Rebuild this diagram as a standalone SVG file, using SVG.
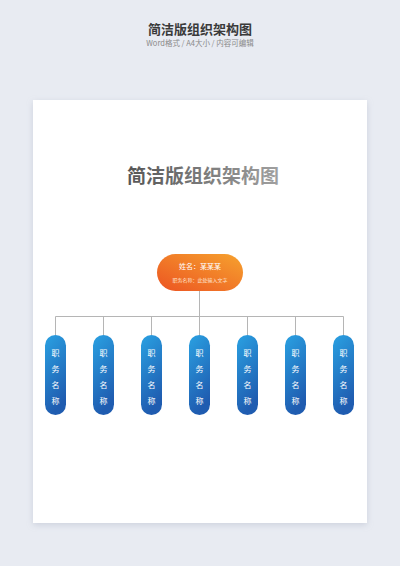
<svg xmlns="http://www.w3.org/2000/svg" width="400" height="566" viewBox="0 0 400 566">
<defs>
<linearGradient id="gTitle" x1="0" y1="0" x2="1" y2="0">
<stop offset="0" stop-color="#555"/><stop offset="1" stop-color="#a0a0a0"/>
</linearGradient>
<linearGradient id="gOrange" x1="0" y1="1" x2="1" y2="0">
<stop offset="0" stop-color="#ec5422"/><stop offset="1" stop-color="#f6a22e"/>
</linearGradient>
<linearGradient id="gBlue" x1="0" y1="0" x2="0.3" y2="1">
<stop offset="0" stop-color="#2aa1e2"/><stop offset="1" stop-color="#1f5cb0"/>
</linearGradient>
<filter id="shadow" x="-10%" y="-10%" width="120%" height="120%">
<feDropShadow dx="0" dy="2" stdDeviation="3" flood-color="#9aa3b5" flood-opacity="0.35"/>
</filter>
<filter id="ns" x="-30%" y="-30%" width="160%" height="160%">
<feDropShadow dx="0" dy="1" stdDeviation="1.5" flood-color="#1f5cb0" flood-opacity="0.25"/>
</filter>
</defs>
<style>
.cjk{font-family:"Noto Sans CJK SC","Liberation Sans",sans-serif}
.blue rect{fill:url(#gBlue)}
.blue text{fill:#fff;font-size:8px;text-anchor:middle;font-family:"Noto Sans CJK SC",sans-serif}
.conn{stroke:#b5b5b5;stroke-width:1;fill:none}
</style>
<rect width="400" height="566" fill="#e8ebf2"/>
<text x="200" y="34" text-anchor="middle" class="cjk" font-size="13" font-weight="bold" fill="#3a3a3a">简洁版组织架构图</text>
<text x="200" y="46" text-anchor="middle" class="cjk" font-size="7.5" fill="#8a8a8a">Word格式 / A4大小 / 内容可编辑</text>
<rect x="33" y="100" width="334" height="423" fill="#fff" filter="url(#shadow)"/>
<text x="203" y="183" text-anchor="middle" class="cjk" font-size="19" font-weight="bold" fill="url(#gTitle)">简洁版组织架构图</text>
<g id="connectors" class="conn">
<path d="M199.5 291V316.5M55.5 316.5H343.5M55.5 316.5V335M103.5 316.5V335M151.5 316.5V335M199.5 316.5V335M247.5 316.5V335M295.5 316.5V335M343.5 316.5V335"/>
</g>
<g id="root">
<rect x="157" y="254" width="86" height="37" rx="18.5" fill="url(#gOrange)"/>
<text x="200" y="268.5" text-anchor="middle" class="cjk" font-size="7" fill="#fff">姓名：某某某</text>
<text x="200" y="282" text-anchor="middle" class="cjk" font-size="5" fill="#ffe2cc">职务名称：此处输入文字</text>
</g>
<g id="n1" class="blue"><rect x="45" y="335" width="21" height="80" rx="10.5"/><text x="55.5" y="356">职</text><text x="55.5" y="372">务</text><text x="55.5" y="388">名</text><text x="55.5" y="404">称</text></g>
<g id="n2" class="blue"><rect x="93" y="335" width="21" height="80" rx="10.5"/><text x="103.5" y="356">职</text><text x="103.5" y="372">务</text><text x="103.5" y="388">名</text><text x="103.5" y="404">称</text></g>
<g id="n3" class="blue"><rect x="141" y="335" width="21" height="80" rx="10.5"/><text x="151.5" y="356">职</text><text x="151.5" y="372">务</text><text x="151.5" y="388">名</text><text x="151.5" y="404">称</text></g>
<g id="n4" class="blue"><rect x="189" y="335" width="21" height="80" rx="10.5"/><text x="199.5" y="356">职</text><text x="199.5" y="372">务</text><text x="199.5" y="388">名</text><text x="199.5" y="404">称</text></g>
<g id="n5" class="blue"><rect x="237" y="335" width="21" height="80" rx="10.5"/><text x="247.5" y="356">职</text><text x="247.5" y="372">务</text><text x="247.5" y="388">名</text><text x="247.5" y="404">称</text></g>
<g id="n6" class="blue"><rect x="285" y="335" width="21" height="80" rx="10.5"/><text x="295.5" y="356">职</text><text x="295.5" y="372">务</text><text x="295.5" y="388">名</text><text x="295.5" y="404">称</text></g>
<g id="n7" class="blue"><rect x="333" y="335" width="21" height="80" rx="10.5"/><text x="343.5" y="356">职</text><text x="343.5" y="372">务</text><text x="343.5" y="388">名</text><text x="343.5" y="404">称</text></g>
</svg>
